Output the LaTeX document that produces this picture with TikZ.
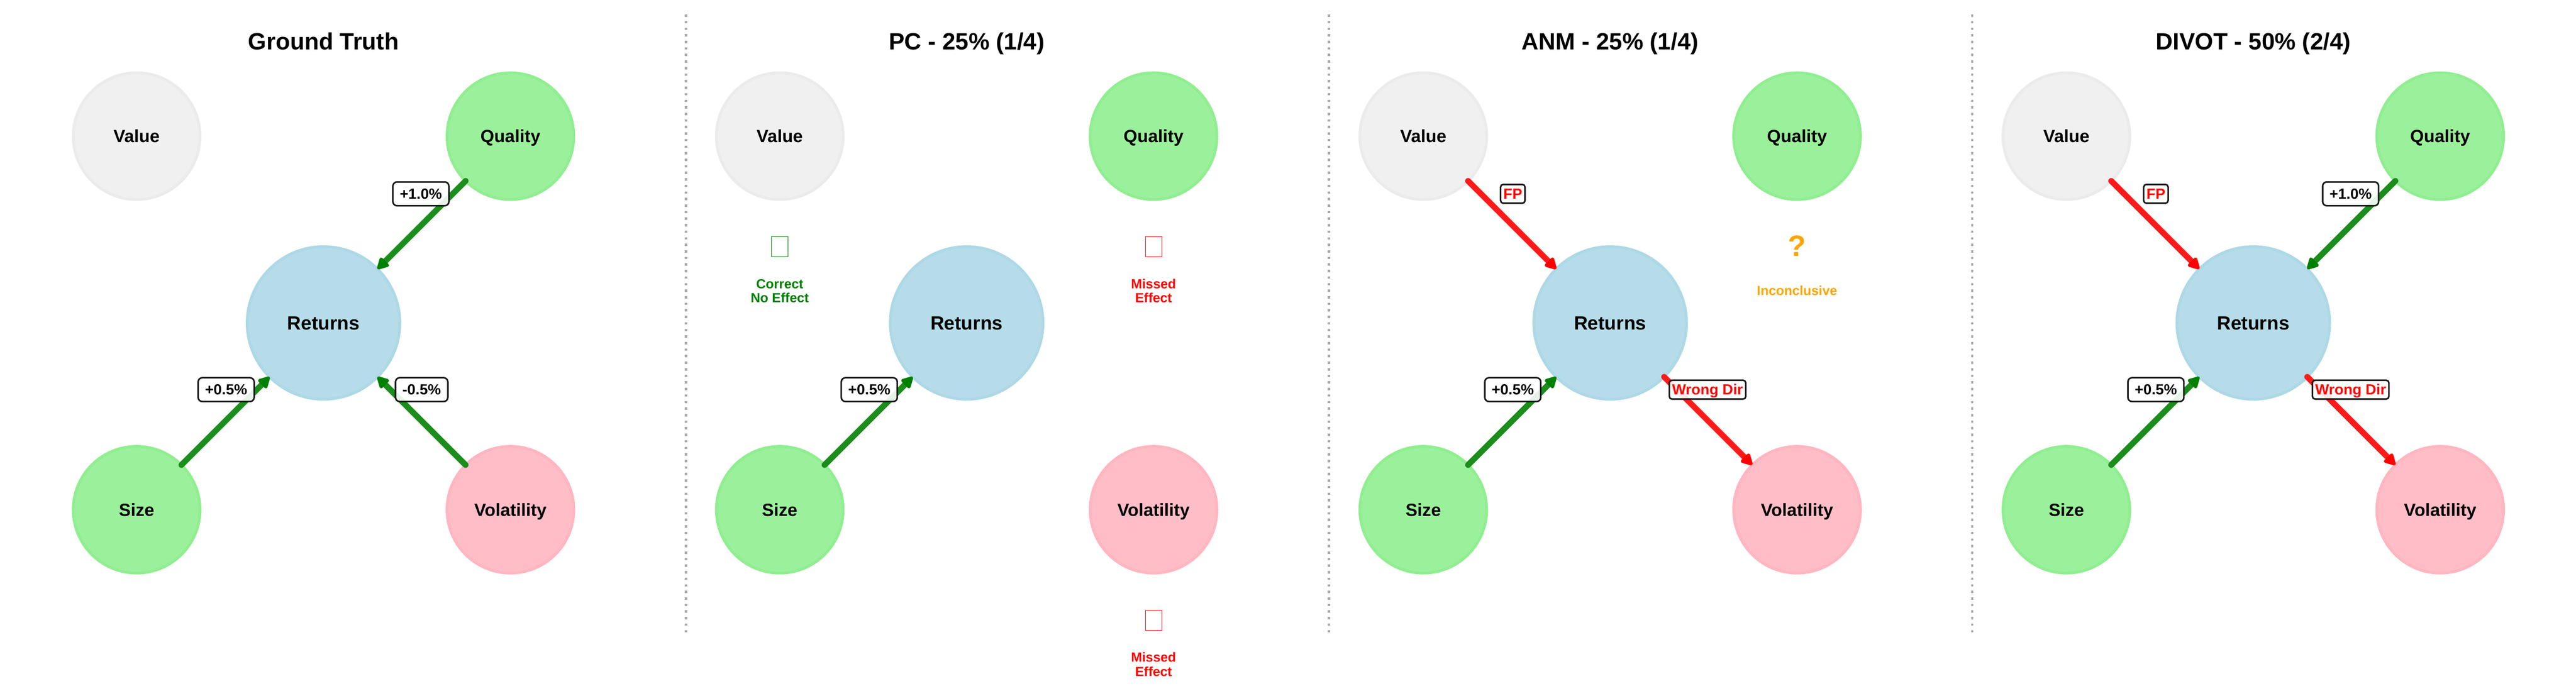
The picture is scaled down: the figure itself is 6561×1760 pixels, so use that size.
\documentclass[tikz,border=0pt]{standalone}
\usepackage{fontspec}
\setmainfont{Liberation Sans}
\usetikzlibrary{arrows.meta}
\definecolor{valfill}{HTML}{F0F0F0}
\definecolor{valedge}{HTML}{EBEBEB}
\definecolor{grnfill}{HTML}{9BF09B}
\definecolor{grnedge}{HTML}{90EE90}
\definecolor{retfill}{HTML}{B5DCE8}
\definecolor{retedge}{HTML}{ADD8E6}
\definecolor{pnkfill}{HTML}{FFBDC7}
\definecolor{pnkedge}{HTML}{FFB6C1}
\definecolor{gline}{HTML}{1A8D1A}
\definecolor{ghead}{HTML}{008000}
\definecolor{rline}{HTML}{FF1A1A}
\definecolor{rhead}{HTML}{FF0000}
\definecolor{labedge}{HTML}{1A1A1A}
\definecolor{sepgray}{HTML}{AAAAAA}
\definecolor{okgreen}{HTML}{008000}
\definecolor{badred}{HTML}{FF0000}
\definecolor{incorange}{HTML}{FFA500}
\tikzset{
  nd/.style={circle, inner sep=0pt, outer sep=0pt, minimum size=86.13pt, line width=1.87pt,
    text=black, font=\fontsize{12}{14}\selectfont\bfseries, text height=8.6pt, text depth=0pt},
  valn/.style={nd, fill=valfill, draw=valedge},
  grnn/.style={nd, fill=grnfill, draw=grnedge},
  pnkn/.style={nd, fill=pnkfill, draw=pnkedge},
  retn/.style={nd, minimum size=103.73pt, fill=retfill, draw=retedge,
    font=\fontsize{13}{15}\selectfont\bfseries, text height=9.31pt},
  ttl/.style={anchor=base, font=\fontsize{16}{19}\selectfont\bfseries},
  garr/.style={draw=gline, line width=4pt, line cap=round,
    -{Triangle[length=9pt, width=9pt, round, color=ghead]}},
  rarr/.style={draw=rline, line width=4pt, line cap=round,
    -{Triangle[length=9pt, width=9pt, round, color=rhead]}},
  blab/.style={draw=labedge, line width=1.07pt, fill=white, fill opacity=0.9, text opacity=1,
    rounded corners=2.8pt, inner xsep=4.7pt, inner ysep=4.5pt, text=black,
    font=\fontsize{10}{12}\selectfont\bfseries, text height=7.16pt, text depth=0pt},
  rlab/.style={blab, text=badred, inner xsep=1.9pt, inner ysep=2.8pt, rounded corners=1.8pt},
  tofu/.style={draw, line width=0.35pt, minimum width=11.2pt, minimum height=13.6pt, inner sep=0pt},
  ann/.style={anchor=base, font=\fontsize{9}{11}\selectfont\bfseries},
  sepline/.style={draw=sepgray, line width=1.6pt, dash pattern=on 1.6pt off 2.85pt},
}
\newcommand{\fivenodes}[1]{%
  \node[valn] (#1v) at (-476,347) {Value};
  \node[grnn] (#1q) at (476,347) {Quality};
  \node[retn] (#1r) at (0,823) {Returns};
  \node[grnn] (#1s) at (-476,1299) {Size};
  \node[pnkn] (#1o) at (476,1299) {Volatility};
}
\begin{document}
\begin{tikzpicture}[x=0.266667pt, y=-0.266667pt]
\useasboundingbox (0,0) rectangle (6561,1760);
\fill[white] (0,0) rectangle (6561,1760);

% separators
\draw[sepline] (1747,37) -- (1747,1617);
\draw[sepline] (3385,37) -- (3385,1617);
\draw[sepline] (5023,37) -- (5023,1617);

% Panel 1: Ground Truth
\begin{scope}[shift={(824,0)}]
  \node[ttl] (gtt) at (0,126) {Ground Truth};
  \fivenodes{gt}
  \draw[garr] (gtq) -- (gtr);
  \draw[garr] (gts) -- (gtr);
  \draw[garr] (gto) -- (gtr);
  \node[blab] (gtl1) at (248,494) {+1.0\%};
  \node[blab] (gtl2) at (-248,993) {+0.5\%};
  \node[blab] (gtl3) at (250,993) {-0.5\%};
\end{scope}

% Panel 2: PC
\begin{scope}[shift={(2462,0)}]
  \node[ttl] (pct) at (0,126) {PC - 25\% (1/4)};
  \fivenodes{pc}
  \draw[garr] (pcs) -- (pcr);
  \node[blab] (pcl1) at (-248,993) {+0.5\%};
  \node[tofu, draw=okgreen] (pcbv) at (-476,629) {};
  \node[ann, text=okgreen] (pcav1) at (-476,735) {Correct};
  \node[ann, text=okgreen] (pcav2) at (-476,771) {No Effect};
  \node[tofu, draw=badred] (pcbq) at (476,629) {};
  \node[ann, text=badred] (pcaq1) at (476,735) {Missed};
  \node[ann, text=badred] (pcaq2) at (476,771) {Effect};
  \node[tofu, draw=badred] (pcbo) at (476,1581) {};
  \node[ann, text=badred] (pcao1) at (476,1687) {Missed};
  \node[ann, text=badred] (pcao2) at (476,1723) {Effect};
\end{scope}

% Panel 3: ANM
\begin{scope}[shift={(4101,0)}]
  \node[ttl] (anmt) at (0,126) {ANM - 25\% (1/4)};
  \fivenodes{anm}
  \draw[rarr] (anmv) -- (anmr);
  \draw[garr] (anms) -- (anmr);
  \draw[rarr] (anmr) -- (anmo);
  \node[rlab] (anml1) at (-248,494) {FP};
  \node[blab] (anml2) at (-248,993) {+0.5\%};
  \node[rlab] (anml3) at (248,993) {Wrong Dir};
  \node[anchor=base, text=incorange, font=\fontsize{20}{24}\selectfont\bfseries] (anmqm) at (476,653) {?};
  \node[ann, text=incorange] (anmaq) at (476,753) {Inconclusive};
\end{scope}

% Panel 4: DIVOT
\begin{scope}[shift={(5739,0)}]
  \node[ttl] (dvt) at (0,126) {DIVOT - 50\% (2/4)};
  \fivenodes{dv}
  \draw[rarr] (dvv) -- (dvr);
  \draw[garr] (dvq) -- (dvr);
  \draw[garr] (dvs) -- (dvr);
  \draw[rarr] (dvr) -- (dvo);
  \node[rlab] (dvl1) at (-248,494) {FP};
  \node[blab] (dvl2) at (248,494) {+1.0\%};
  \node[blab] (dvl3) at (-248,993) {+0.5\%};
  \node[rlab] (dvl4) at (248,993) {Wrong Dir};
\end{scope}
\end{tikzpicture}
\end{document}
